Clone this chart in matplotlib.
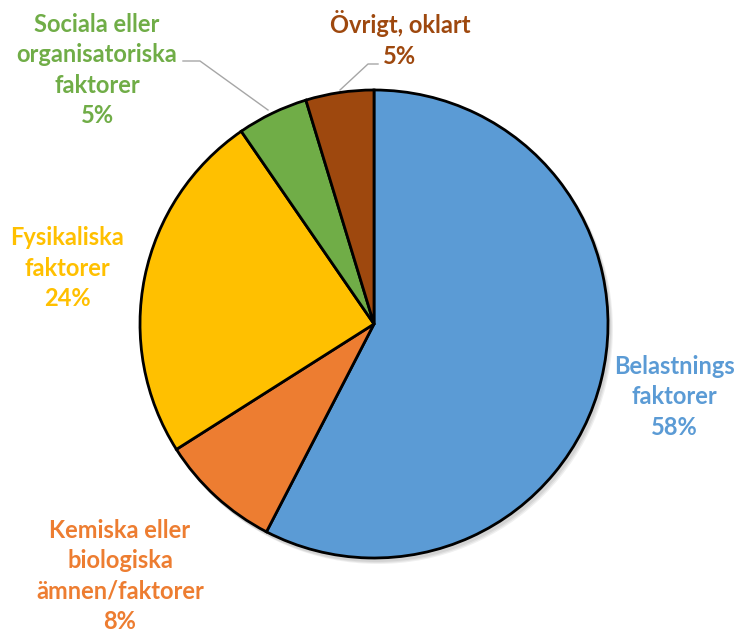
import matplotlib.pyplot as plt
from matplotlib.patches import Circle

# Data (clockwise from 12 o'clock)
labels = ["Belastnings\nfaktorer", "Kemiska eller\nbiologiska\nämnen/faktorer",
          "Fysikaliska\nfaktorer", "Sociala eller\norganisatoriska\nfaktorer",
          "Övrigt, oklart"]
values = [57.6, 8.4, 24.4, 4.9, 4.7]
colors = ["#5B9BD5", "#ED7D31", "#FFC000", "#70AD47", "#9E480E"]

H = 632  # pixel height, used to flip picture y coordinates

fig = plt.figure(figsize=(7.44, 6.32), dpi=100)
ax = fig.add_axes([0, 0, 1, 1])

cx, cy, r = 374, H - 324, 234

# soft shadow behind the pie
for i in range(3):
    ax.add_patch(Circle((cx + 2 + i, cy - 3 - i), r + 1, color="black", alpha=0.06, lw=0, zorder=0))

ax.pie(values, colors=colors, startangle=90, counterclock=False,
       center=(cx, cy), radius=r, frame=True,
       wedgeprops=dict(edgecolor="black", linewidth=2))
ax.set_xlim(0, 744)
ax.set_ylim(0, H)
ax.set_aspect("auto")
ax.axis("off")

font = dict(fontfamily="Lato", fontweight="bold", fontsize=17,
            ha="center", va="center", linespacing=1.38)

# label positions (pixels from top-left)
pos = [(674, 397), (120, 576), (67, 268), (97, 70), (400, 39)]
for lab, v, c, (x, y) in zip(labels, values, colors, pos):
    ax.text(x, H - y, f"{lab}\n{round(v)}%", color=c, **font)

# leader lines
ax.plot([183, 200, 268], [H - 61, H - 61, H - 110], color="#A6A6A6", lw=1, zorder=5)
ax.plot([378, 368, 340], [H - 64, H - 64, H - 90], color="#A6A6A6", lw=1, zorder=5)

plt.savefig("out.png", dpi=100)
